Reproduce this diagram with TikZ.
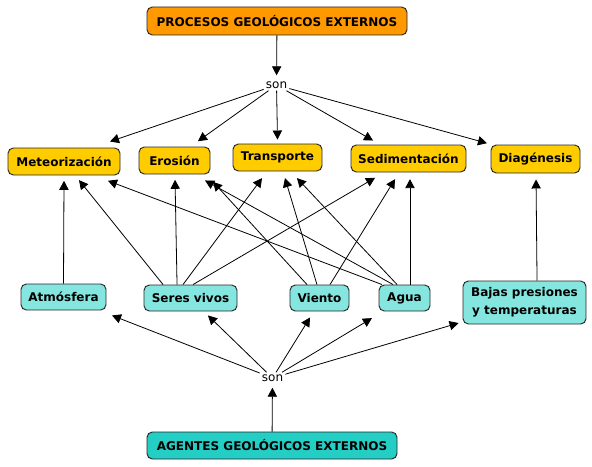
\documentclass[tikz,border=0pt]{standalone}
\usepackage{fontspec}
\setmainfont{DejaVu Sans}
\usetikzlibrary{arrows.meta}
\definecolor{procorange}{RGB}{255,153,0}
\definecolor{procyellow}{RGB}{255,204,0}
\definecolor{agentcyan}{RGB}{133,230,224}
\definecolor{agentteal}{RGB}{36,206,196}
\begin{document}
\begin{tikzpicture}[x=0.75pt,y=-0.75pt,
  box/.style={draw=black!85, line width=0.7pt, rounded corners=4pt, inner sep=0pt,
    font=\fontsize{9}{13.5}\selectfont\bfseries, align=center},
  proc/.style={box, fill=procyellow},
  agent/.style={box, fill=agentcyan},
  linkword/.style={font=\fontsize{9}{11}\selectfont, inner sep=1.5pt},
  arr/.style={-{Triangle[length=6.75pt,width=7pt]}, line width=0.6pt},
  arrs/.style={arr, shorten >=3pt},
]
\useasboundingbox (0,0) rectangle (592,467);
% top
\node[box, fill=procorange, minimum width=195pt, minimum height=21pt] (pge) at (277,21) {PROCESOS GEOLÓGICOS EXTERNOS};
\node[linkword] (son1) at (276.5,85) {son};
\node[proc, minimum width=84pt, minimum height=20.25pt] (met) at (64,161.5) {Meteorización};
\node[proc, minimum width=53.25pt, minimum height=20.25pt] (ero) at (174.5,160.5) {Erosión};
\node[proc, minimum width=66.75pt, minimum height=20.25pt] (tra) at (277.5,157.5) {Transporte};
\node[proc, minimum width=86.25pt, minimum height=20.25pt] (sed) at (408.5,158.5) {Sedimentación};
\node[proc, minimum width=66.75pt, minimum height=21pt] (dia) at (535.5,159) {Diagénesis};
% agents
\node[agent, minimum width=63.75pt, minimum height=19.5pt] (atm) at (63.5,297) {Atmósfera};
\node[agent, minimum width=69.75pt, minimum height=19.5pt] (ser) at (190.5,298) {Seres vivos};
\node[agent, minimum width=44.25pt, minimum height=19.5pt] (vie) at (319.5,298) {Viento};
\node[agent, minimum width=38.25pt, minimum height=19.5pt] (agu) at (404.5,298) {Agua};
\node[agent, minimum width=92.25pt, minimum height=32.25pt] (baj) at (524.5,302.5) {Bajas presiones\\ y temperaturas};
\node[linkword] (son2) at (272.5,378) {son};
\node[box, fill=agentteal, minimum width=187.5pt, minimum height=20.25pt] (age) at (272,445.5) {AGENTES GEOLÓGICOS EXTERNOS};
% top fan
\draw[arrs] (pge) -- (son1);
\draw[arr] (son1) -- ([xshift=34.5pt,yshift=4.5pt]met.north);
\draw[arr] (son1) -- ([xshift=17.6pt,yshift=4pt]ero.north);
\draw[arr] (son1) -- ([yshift=3pt]tra.north);
\draw[arr] (son1) -- ([xshift=-26.6pt,yshift=3pt]sed.north);
\draw[arr] (son1) -- ([xshift=-36.4pt,yshift=1pt]dia.north);
% agents to processes
\draw[arr] (atm.north) -- ([yshift=-4pt]met.south);
\draw[arr] ([xshift=-20.6pt]ser.north) -- ([xshift=11.25pt,yshift=-3.5pt]met.south);
\draw[arr] ([xshift=-10.1pt]ser.north) -- ([xshift=0.4pt,yshift=-4pt]ero.south);
\draw[arr] ([xshift=-5.6pt]ser.north) -- ([xshift=-11.6pt,yshift=-5pt]tra.south);
\draw[arr] ([xshift=1.9pt]ser.north) -- ([xshift=-25.1pt,yshift=-4pt]sed.south);
\draw[arr] ([xshift=-9.4pt]vie.north) -- ([xshift=28.9pt,yshift=-5.5pt]ero.south);
\draw[arr] ([xshift=-1.9pt]vie.north) -- ([xshift=5.6pt,yshift=-5pt]tra.south);
\draw[arr] ([xshift=7.9pt]vie.north) -- ([xshift=-10.1pt,yshift=-5pt]sed.south);
\draw[arr] ([xshift=-16.9pt]agu.north) -- ([xshift=33pt,yshift=-4pt]met.south);
\draw[arr] ([xshift=-8.6pt]agu.north) -- ([xshift=22.9pt,yshift=-4.5pt]ero.south);
\draw[arr] ([xshift=-5.6pt]agu.north) -- ([xshift=14.6pt,yshift=-5pt]tra.south);
\draw[arr] ([xshift=4.1pt]agu.north) -- ([xshift=1.1pt,yshift=-5pt]sed.south);
\draw[arr] ([xshift=9.4pt]baj.north) -- ([xshift=0.4pt,yshift=-4.5pt]dia.south);
% bottom fan
\draw[arrs] (age) -- (son2);
\draw[arr] (son2) -- ([xshift=36.4pt,yshift=-3.75pt]atm.south);
\draw[arr] (son2) -- ([xshift=13.1pt,yshift=-3pt]ser.south);
\draw[arr] (son2) -- ([xshift=-7.1pt,yshift=-4.5pt]vie.south);
\draw[arr] (son2) -- ([xshift=-24.4pt,yshift=-5pt]agu.south);
\draw[arr] (son2) -- ([xshift=-3pt,yshift=-15.4pt]baj.west);
\end{tikzpicture}
\end{document}
